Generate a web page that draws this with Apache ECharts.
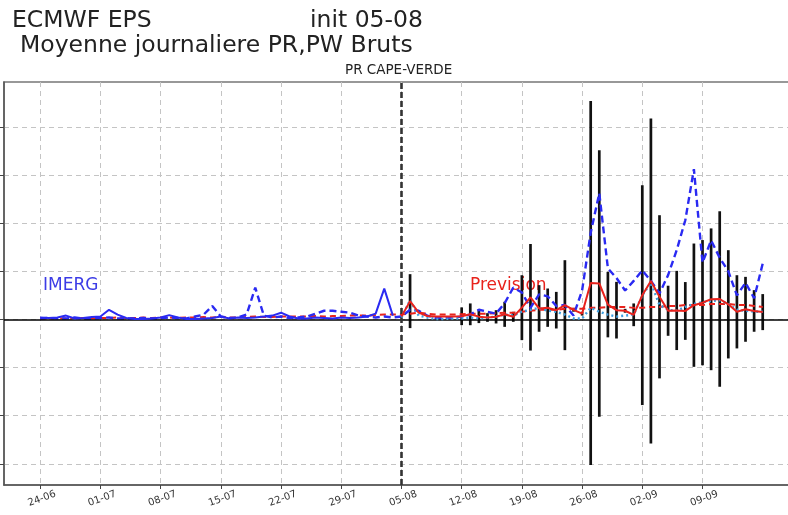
<!DOCTYPE html>
<html><head><meta charset="utf-8">
<script src="https://cdn.jsdelivr.net/npm/echarts@6/dist/echarts.min.js"></script>
<style>html,body{margin:0;padding:0;background:#fff}#c{width:788px;height:515px}</style>
</head><body><div id="c"></div><script>
// x = days since 24-06
const tickDays = [0,7,14,21,28,35,42,49,56,63,70,77];
const tickLabels = ['24-06','01-07','08-07','15-07','22-07','29-07','05-08','12-08','19-08','26-08','02-09','09-09'];
const yTicks = [-15,-10,-5,0,5,10,15,20];
const initDay = 42;

// IMERG observed (solid blue), from day 0
const imerg = [0.2,0.15,0.2,0.4,0.1,0.15,0.25,0.3,1.0,0.5,0.15,0.05,0.05,0.1,0.2,0.45,0.2,0.05,0.05,0.1,0.15,0.3,0.1,0.2,0.15,0.2,0.3,0.4,0.7,0.3,0.1,0.1,0.2,0.15,0.1,0.2,0.15,0.2,0.3,0.6,3.2,0.4];
// dashed blue, from day 0
const blueDashed = [0.1,0.15,0.1,0.1,0.2,0.1,0.1,0.15,0.2,0.1,0.1,0.1,0.15,0.1,0.1,0.2,0.15,0.1,0.3,
  0.5,1.4,0.3,0.15,0.2,0.5,3.3,0.4,0.2,0.3,0.15,0.2,0.3,0.6,0.9,0.9,0.8,0.7,0.4,0.3,0.2,0.3,0.2,
  0.3,1.0,0.9,0.4,0.15,0.15,0.2,0.3,0.5,1.0,0.8,0.6,1.7,3.3,2.8,1.2,2.6,2.4,1.4,1.5,0.4,3.0,9.0,13.1,5.3,4.3,3.0,4.0,5.1,4.0,2.7,4.6,7.2,10.3,15.6,5.9,8.2,6.4,5.0,2.5,3.8,2.2,5.8];
// dashed red, from day 0
const redDashed = [0.1,0.1,0.15,0.1,0.15,0.15,0.1,0.15,0.15,0.2,0.15,0.15,0.2,0.15,0.2,0.2,0.15,0.2,0.2,0.25,0.2,0.25,0.2,0.2,0.25,0.3,0.25,0.25,0.3,0.3,0.3,0.3,0.35,0.3,0.35,0.35,0.4,0.4,0.4,0.45,0.5,0.5,
  0.5,0.6,0.7,0.6,0.5,0.5,0.5,0.55,0.6,0.6,0.6,0.65,0.7,0.7,0.8,0.9,1.0,1.0,1.0,1.1,1.1,1.1,1.2,1.2,1.3,1.3,1.3,1.2,1.2,1.3,1.3,1.4,1.4,1.5,1.5,1.5,1.6,1.6,1.6,1.5,1.5,1.4,1.3];
// forecast (Prevision) from day 42
const fcStart = 42;
const fcMean = [0.3,1.9,0.7,0.35,0.3,0.3,0.3,0.33,0.53,0.29,
  0.2,0.27,0.53,0.27,1.22,2.3,1.14,1.22,0.96,1.48,
  1.0,0.6,3.78,3.73,1.54,0.96,0.9,0.48,2.52,3.99,
  2.35,0.9,0.93,0.88,1.48,1.74,2.09,2.12,1.57,0.79,
  1.05,0.88,0.76];
const fcSpread = [0,2.8,0,0,0,0,0,0.92,1.13,0.67,
  0.45,0.69,1.3,0.52,3.37,5.53,2.42,1.99,1.9,4.67,
  0.2,0.2,18.9,13.83,3.4,2.94,0.2,1.18,11.41,16.86,
  8.47,2.6,4.11,3.0,6.4,6.5,7.36,9.11,5.62,3.8,
  3.37,2.16,1.87];
const cyanDotted = [0.2,2.0,0.4,0.2,0.05,0.05,0.1,0.1,0.2,0.1,
  0.2,0.3,0.5,0.4,0.8,1.0,1.2,0.9,0.8,0.5,
  0.1,0.1,1.2,0.8,0.5,0.3,0.4,0.5,2.5,3.8,
  1.5,1.0,0.9,1.3,1.6,1.8,1.9,2.0,1.6,1.0,
  0.9,0.8,0.8];

const pairs = (arr, start) => arr.map((v, i) => [start + i, v]);
const bars = fcMean.map((m, i) => [fcStart + i, m, fcSpread[i]]);

const FONT = 'DejaVu Sans';
const chart = echarts.init(document.getElementById('c'), null, {renderer: 'canvas'});
chart.setOption({
  animation: false,
  backgroundColor: '#fff',
  grid: {left: 4, top: 82, width: 800, height: 403, show: true, borderColor: '#777', borderWidth: 1.5,
         containLabel: false, outerBoundsMode: 'none'},
  xAxis: {
    type: 'value', min: -4.21, max: 88.8,
    axisLine: {show: true, onZero: false, lineStyle: {color: '#555', width: 1.5}},
    axisTick: {show: true, customValues: tickDays, length: 4, lineStyle: {color: '#444'}},
    axisLabel: {show: true, customValues: tickDays, rotate: 20, align: 'center', verticalAlign: 'top',
      fontSize: 10, fontFamily: FONT, color: '#333', margin: 9,
      formatter: v => { const k = tickDays.indexOf(Math.round(v)); return k >= 0 ? tickLabels[k] : ''; }},
    splitLine: {show: true, lineStyle: {color: '#c4c4c4', type: [5, 4], width: 1}}
  },
  yAxis: {
    type: 'value', min: -17.19, max: 24.65,
    axisLine: {show: true, onZero: false, lineStyle: {color: '#555', width: 1.5}},
    axisTick: {show: true, customValues: yTicks, length: 4, lineStyle: {color: '#444'}},
    axisLabel: {show: false},
    splitLine: {show: true, lineStyle: {color: '#c4c4c4', type: [5, 4], width: 1}}
  },
  series: [
    {
      type: 'custom', name: 'spread', z: 2,
      data: bars,
      encode: {x: 0, y: 1},
      renderItem: (params, api) => {
        const x = api.value(0), m = api.value(1), s = api.value(2);
        if (!s) return null;
        const p1 = api.coord([x, m + s]);
        const p2 = api.coord([x, m - s]);
        return {type: 'line', shape: {x1: p1[0], y1: p1[1], x2: p2[0], y2: p2[1]},
                style: {stroke: '#111', lineWidth: 2.7}};
      }
    },
    {
      type: 'line', name: 'redDashed', z: 3, data: pairs(redDashed, 0), showSymbol: false, symbol: 'none',
      lineStyle: {color: '#e8221c', width: 2, type: [6, 4]},
      markLine: {
        silent: true, symbol: 'none', label: {show: false},
        data: [
          {yAxis: 0, lineStyle: {color: '#000', width: 1.6, type: 'solid'}},
          {xAxis: initDay, lineStyle: {color: '#333', width: 2.6, type: [6, 3]}}
        ]
      }
    },
    {
      type: 'line', name: 'blueDashed', z: 4, data: pairs(blueDashed, 0), showSymbol: false, symbol: 'none',
      lineStyle: {color: '#2a2af2', width: 2.4, type: [7, 4]}
    },
    {
      type: 'line', name: 'IMERG', z: 5, data: pairs(imerg, 0), showSymbol: false, symbol: 'none',
      lineStyle: {color: '#2a2af2', width: 2}
    },
    {
      type: 'line', name: 'cyan', z: 5, data: pairs(cyanDotted, fcStart), showSymbol: false, symbol: 'none',
      lineStyle: {color: '#3d9ee0', width: 2.4, type: [2, 3]}
    },
    {
      type: 'line', name: 'Prevision', z: 6, data: pairs(fcMean, fcStart), showSymbol: false, symbol: 'none',
      lineStyle: {color: '#e8221c', width: 2}
    }
  ],
  graphic: [
    {type: 'text', left: 12, top: 9, style: {text: 'ECMWF EPS', font: '23.5px "DejaVu Sans"', fill: '#222'}},
    {type: 'text', left: 310, top: 9, style: {text: 'init 05-08', font: '23.5px "DejaVu Sans"', fill: '#222'}},
    {type: 'text', left: 20, top: 34, style: {text: 'Moyenne journaliere PR,PW Bruts', font: '23.5px "DejaVu Sans"', fill: '#222'}},
    {type: 'text', left: 345, top: 63, style: {text: 'PR CAPE-VERDE', font: '13.5px "DejaVu Sans"', fill: '#222'}},
    {type: 'text', left: 43, top: 277, style: {text: 'IMERG', font: '17px "DejaVu Sans"', fill: '#3b3be6'}},
    {type: 'text', left: 470, top: 277, style: {text: 'Prevision', font: '17px "DejaVu Sans"', fill: '#e8221c'}}
  ]
});
</script></body></html>
